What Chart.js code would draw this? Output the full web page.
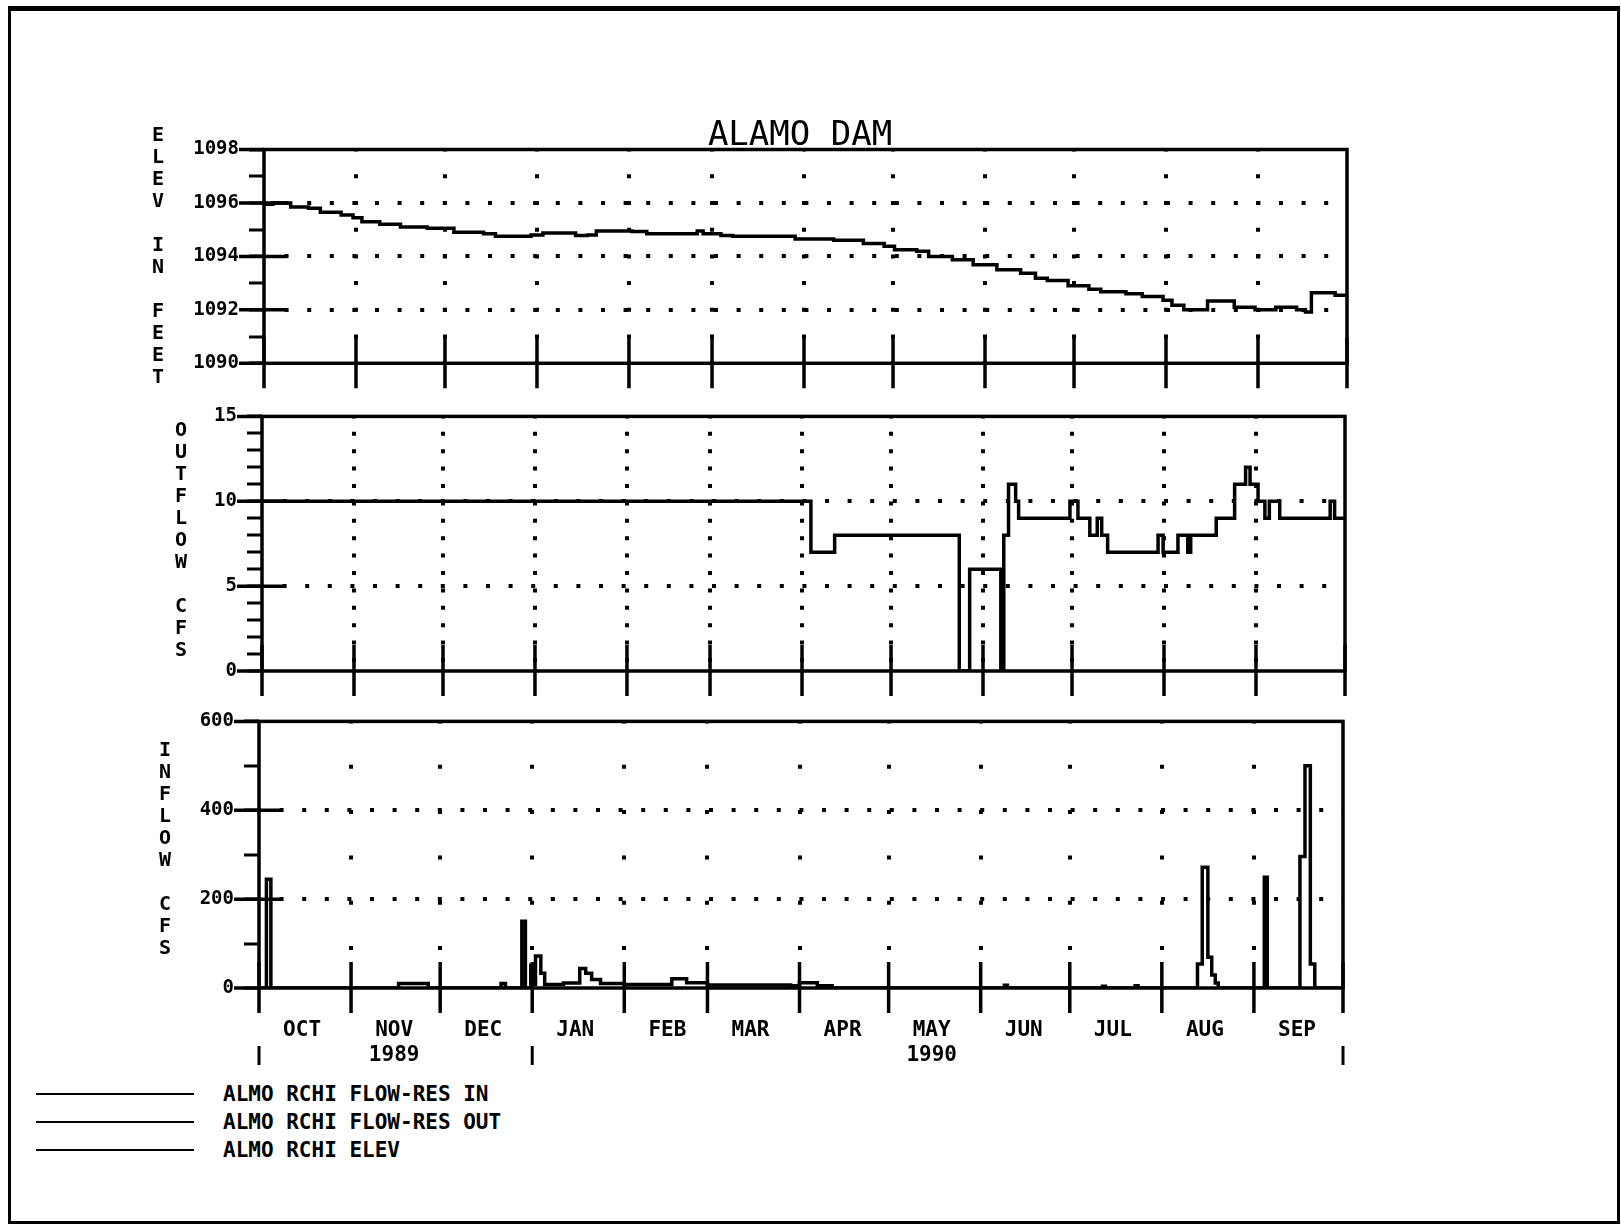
<!DOCTYPE html>
<html>
<head>
<meta charset="utf-8">
<title>ALAMO DAM</title>
<script src="https://cdn.jsdelivr.net/npm/chart.js@4.4.1/dist/chart.umd.min.js"></script>
<style>
  html, body { margin: 0; padding: 0; background: #fff; }
  #page { position: relative; width: 1621px; height: 1226px; overflow: hidden; background: #fff; }
  #frame { position: absolute; left: 8px; top: 6px; width: 1606px; height: 1210px; border: 3px solid #000; border-top-width: 5px; }
  canvas { position: absolute; left: 0; }
  .ttl { position: absolute; left: 650px; top: 116px; width: 300px; text-align: center; font: 34px/34px "DejaVu Sans Mono", monospace; color: #000; }
  .ylab { position: absolute; width: 30px; text-align: center; white-space: pre; color: #000; font: bold 20px/22px "DejaVu Sans Mono", monospace; }
  #legend { position: absolute; left: 0; top: 1080px; }
  .row { position: absolute; left: 0; height: 28px; width: 700px; }
  .row .ln { position: absolute; left: 36px; top: 13px; width: 158px; height: 0; border-top: 2.5px solid #000; }
  .row .tx { position: absolute; left: 223px; top: 0; font: bold 21px/28px "DejaVu Sans Mono", monospace; white-space: pre; color: #000; }
</style>
</head>
<body>
<div id="page">
  <div id="frame"></div>
  <canvas id="cElev" width="1621" height="275" style="top:120px"></canvas>
  <canvas id="cOut" width="1621" height="305" style="top:395px"></canvas>
  <canvas id="cIn" width="1621" height="380" style="top:700px"></canvas>
  <div class="ttl">ALAMO DAM</div>
  <div class="ylab" style="left:143px;top:123px">E
L
E
V

I
N

F
E
E
T</div>
  <div class="ylab" style="left:166px;top:418px">O
U
T
F
L
O
W

C
F
S</div>
  <div class="ylab" style="left:150px;top:738px">I
N
F
L
O
W

C
F
S</div>
  <div id="legend"></div>
</div>
<script>
// water year Oct 1989 - Sep 1990, x = days since 1 Oct 1989
var monthStarts = [0, 31, 61, 92, 123, 151, 182, 212, 243, 273, 304, 335, 365];
var monthNames = ['OCT', 'NOV', 'DEC', 'JAN', 'FEB', 'MAR', 'APR', 'MAY', 'JUN', 'JUL', 'AUG', 'SEP'];
var yearLabels = ['', '1989', '', '', '', '', '', '1990', '', '', '', ''];
var yearMarks = [0, 92, 365];

// y ticks (minor) and the labelled ones
var elevTicks = [1090, 1091, 1092, 1093, 1094, 1095, 1096, 1097, 1098];
var elevLabels = [1090, 1092, 1094, 1096, 1098];
var outTicks = [0, 1, 2, 3, 4, 5, 6, 7, 8, 9, 10, 11, 12, 13, 14, 15];
var outLabels = [0, 5, 10, 15];
var inTicks = [0, 100, 200, 300, 400, 500, 600];
var inLabels = [0, 200, 400, 600];

// ALMO RCHI ELEV (feet), value holds from that day on
var elevDays = [0, 3, 9, 15, 19, 26, 30, 33, 39, 46, 55, 64, 74, 78, 90, 94, 105, 109, 112, 124,
  129, 146, 148, 154, 158, 179, 192, 202, 209, 212.5, 220, 224, 232, 239, 247, 255, 260, 264, 271, 278,
  282, 290.5, 296, 303, 306, 310, 318, 327, 334, 341, 348, 351, 353, 361, 365];
var elevVals = [1095.95, 1096.0, 1095.85, 1095.8, 1095.65, 1095.55, 1095.45, 1095.3, 1095.2, 1095.1,
  1095.05, 1094.9, 1094.85, 1094.75, 1094.8, 1094.88, 1094.78, 1094.8, 1094.95, 1094.93,
  1094.85, 1094.95, 1094.85, 1094.78, 1094.75, 1094.65, 1094.6, 1094.48, 1094.38, 1094.25,
  1094.19, 1094.0, 1093.87, 1093.69, 1093.5, 1093.37, 1093.18, 1093.1, 1092.9, 1092.77,
  1092.68, 1092.6, 1092.5, 1092.36, 1092.17, 1092.0, 1092.33, 1092.1, 1092.0, 1092.1,
  1092.0, 1091.92, 1092.64, 1092.55, 1092.55];

// ALMO RCHI FLOW-RES OUT (cfs)
var outDays = [0, 185, 193, 235, 238.5, 249, 250, 251.6, 254, 255, 272.3, 275, 279, 281.5, 283, 285,
  302, 303.7, 308.7, 312, 313, 321.6, 327.8, 331.5, 333, 335.7, 338, 339.5, 343, 360, 361.5, 365];
var outVals = [10, 7, 8, 0, 6, 0, 8, 11, 10, 9, 10, 9, 8, 9, 8, 7,
  8, 7, 8, 7, 8, 9, 11, 12, 11, 10, 9, 10, 9, 10, 9, 9];

// ALMO RCHI FLOW-RES IN (cfs)
var inDays = [0, 2.5, 4, 47, 57, 81.5, 83, 88.5, 89.7, 91.5, 92.4, 93.1, 94.9, 96.2, 102.5, 108, 110, 112, 115, 123,
  139, 144, 151, 179, 182, 188, 193, 251, 252, 284, 285, 295, 296, 316, 317.6, 319.5, 320.8, 322, 323,
  338.5, 339.5, 350.5, 352.2, 354, 355.5, 365];
var inVals = [0, 245, 0, 10, 0, 10, 0, 150, 0, 51, 8, 72, 33, 8, 11, 44, 33, 19, 10, 8,
  21, 12, 7, 5, 12, 5, 0, 6, 0, 4, 0, 5, 0, 54, 272, 69, 29, 11, 0,
  249, 0, 296, 500, 54, 0, 0];

var labelOffset = 14.5; // month names sit a little left of mid month
var boldFont = 'DejaVu Sans Mono';

var plotterPlugin = {
    id: 'plotter',
    afterDraw: function (chart, args, opts) {
        var c = chart.ctx, a = chart.chartArea;
        var xs = chart.scales.x, ys = chart.scales.y;
        c.save();
        c.strokeStyle = '#000';
        c.lineWidth = 3.5;
        c.setLineDash([]);
        c.strokeRect(a.left, a.top, a.right - a.left, a.bottom - a.top);
        c.beginPath();
        // long month ticks through the base line
        monthStarts.forEach(function (d) {
            var px = xs.getPixelForValue(d);
            c.moveTo(px, a.bottom - 26);
            c.lineTo(px, a.bottom + 25);
        });
        // labelled y ticks are longer and poke into the plot
        opts.labels.forEach(function (v) {
            var py = ys.getPixelForValue(v);
            c.moveTo(a.left - 25, py);
            c.lineTo((v > ys.min && v < ys.max) ? a.left + 23 : a.left, py);
        });
        c.stroke();
        if (opts.years) {
            c.lineWidth = 3;
            c.beginPath();
            yearMarks.forEach(function (d) {
                var px = xs.getPixelForValue(d);
                c.moveTo(px, a.bottom + 58);
                c.lineTo(px, a.bottom + 77);
            });
            c.stroke();
        }
        c.restore();
    }
};

function makePanel(id, p) {
    var pts = p.days.map(function (d, i) { return { x: d, y: p.vals[i] }; });
    var lo = p.ticks[0], hi = p.ticks[p.ticks.length - 1];
    var vStep = (p.box.b - p.box.t) / (p.ticks.length - 1);

    var scales = {
        x: {
            type: 'linear', min: 0, max: 365, weight: 0,
            afterBuildTicks: function (s) { s.ticks = monthStarts.map(function (v) { return { value: v }; }); },
            afterFit: function (s) { s.height = 0; },
            ticks: { display: false },
            // in v4 the grid line dash lives under border
            border: { display: false, dash: [4, vStep - 4], dashOffset: 2 },
            grid: {
                color: function (c) { return (c.tick && c.tick.value > 0 && c.tick.value < 365) ? '#000' : 'rgba(0,0,0,0)'; },
                lineWidth: 4, drawTicks: false
            }
        },
        y: {
            min: lo, max: hi,
            afterBuildTicks: function (s) { s.ticks = p.ticks.map(function (v) { return { value: v }; }); },
            afterFit: function (s) { s.width = 100; },
            border: { display: false, dash: [4, 18.6], dashOffset: 2 },
            ticks: {
                autoSkip: false, padding: 10, color: '#000',
                font: { family: boldFont, weight: 'bold', size: 19 },
                callback: function (v) { return p.labels.indexOf(v) >= 0 ? String(v) : ''; }
            },
            grid: {
                color: function (c) {
                    var v = c.tick && c.tick.value;
                    return (p.labels.indexOf(v) >= 0 && v > lo && v < hi) ? '#000' : 'rgba(0,0,0,0)';
                },
                lineWidth: 4,
                tickColor: '#000', tickWidth: 3, tickLength: 15, tickBorderDash: []
            }
        }
    };

    var xAxisH = 0;
    if (p.monthLabels) {
        xAxisH = 80;
        scales.xm = {
            type: 'linear', min: 0, max: 365, position: 'bottom', weight: 1,
            afterBuildTicks: function (s) {
                s.ticks = monthStarts.slice(0, 12).map(function (v) { return { value: v + labelOffset }; });
            },
            afterFit: function (s) { s.height = xAxisH; },
            border: { display: false },
            grid: { display: false, drawTicks: false },
            ticks: {
                autoSkip: false, maxRotation: 0, padding: 30, color: '#000',
                font: { family: boldFont, weight: 'bold', size: 21, lineHeight: 1.2 },
                callback: function (v, i) { return yearLabels[i] ? [monthNames[i], yearLabels[i]] : monthNames[i]; }
            }
        };
    }

    var canvas = document.getElementById(id);
    var top = parseFloat(canvas.style.top);
    return new Chart(canvas, {
        type: 'line',
        data: {
            datasets: [{
                label: p.label,
                data: pts,
                borderColor: '#000',
                borderWidth: 3.5,
                pointRadius: 0,
                stepped: true,
                fill: false
            }]
        },
        options: {
            responsive: false,
            animation: false,
            layout: {
                padding: {
                    left: p.box.l - 100,
                    right: 1621 - p.box.r,
                    top: p.box.t - top,
                    bottom: top + canvas.height - p.box.b - xAxisH
                }
            },
            plugins: {
                legend: { display: false },
                tooltip: { enabled: false },
                plotter: { labels: p.labels, years: !!p.monthLabels }
            },
            scales: scales
        },
        plugins: [plotterPlugin]
    });
}

var elevChart = makePanel('cElev', {
    label: 'ALMO RCHI ELEV', days: elevDays, vals: elevVals,
    ticks: elevTicks, labels: elevLabels,
    box: { l: 264, r: 1347, t: 149.5, b: 363.3 }
});
var outChart = makePanel('cOut', {
    label: 'ALMO RCHI FLOW-RES OUT', days: outDays, vals: outVals,
    ticks: outTicks, labels: outLabels,
    box: { l: 262, r: 1345, t: 410, b: 671 }
});
var inChart = makePanel('cIn', {
    label: 'ALMO RCHI FLOW-RES IN', days: inDays, vals: inVals,
    ticks: inTicks, labels: inLabels, monthLabels: true,
    box: { l: 259, r: 1343, t: 716, b: 988 }
});

// legend under the plot, same order as the original sheet
var leg = document.getElementById('legend');
[inChart, outChart, elevChart].forEach(function (ch, i) {
    var row = document.createElement('div');
    row.className = 'row';
    row.style.top = (i * 28) + 'px';
    row.innerHTML = '<span class="ln"></span><span class="tx"></span>';
    row.querySelector('.tx').textContent = ch.data.datasets[0].label;
    leg.appendChild(row);
});
</script>
</body>
</html>
